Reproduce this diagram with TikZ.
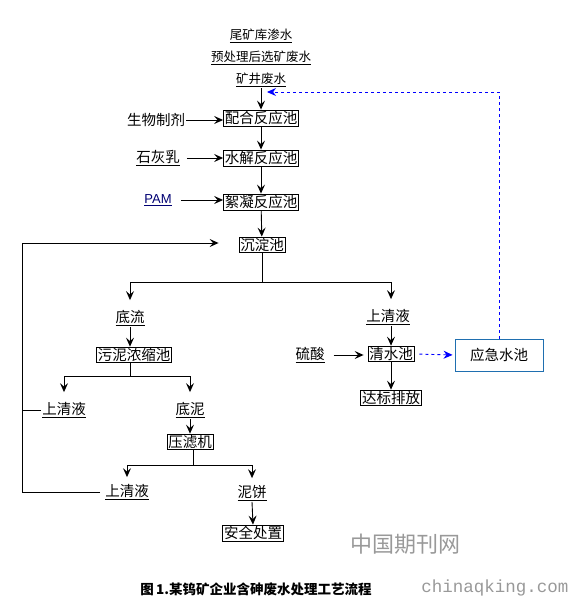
\documentclass[tikz,border=0pt]{standalone}
\usepackage{fontspec}
\setmainfont{Noto Sans CJK SC}
\newfontfamily\pamfont{Liberation Sans}
\newfontfamily\urlfont{Liberation Mono}
\usetikzlibrary{calc,arrows.meta}
\definecolor{steelblue}{RGB}{31,111,176}
\tikzset{
	box/.style={draw, line width=0.9pt, inner sep=1.2pt, font=\fontsize{14.5}{16}\selectfont},
	lbl/.style={inner sep=1pt, font=\fontsize{14.5}{16}\selectfont},
	toplbl/.style={inner sep=1pt, font=\fontsize{12.5}{15}\selectfont},
	arr/.style={line width=0.9pt, -{Stealth[length=9pt,width=8pt,inset=3.5pt]}},
	ln/.style={line width=0.9pt},
	back/.style={dashed, line width=0.9pt, color=blue, -{Stealth[length=9pt,width=8pt]}}
}

\begin{document}
\begin{tikzpicture}[x=1pt, y=-1pt]
		%%%%% START %%%%%
		\useasboundingbox (0,0) rectangle (571,602);
		
		\node[toplbl] (tail) at (261,36) {\underline{尾矿库渗水}};
		\node[toplbl] (pre) at (261,58) {\underline{预处理后选矿废水}};
		\node[toplbl] (mine) at (261,80) {\underline{矿井废水}};
		
		\node[box] (pei) at (261,118) {配合反应池};
		\node[lbl] (bio) at (156,120) {生物制剂};
		\node[box] (shui) at (261,158) {水解反应池};
		\node[lbl] (lime) at (158,158) {\underline{石灰乳}};
		\node[box] (xu) at (261,202) {絮凝反应池};
		\node[lbl, text=blue!45!black, font=\pamfont\fontsize{13}{15}\selectfont] (pam) at (158,200) {\underline{PAM}};
		\node[box] (chen) at (262,245) {沉淀池};
		
		\draw[arr] (mine.south) -- (pei.north);
		\draw[arr] (bio.east) -- (bio.east -| pei.west);
		\draw[arr] (pei) -- (shui);
		\draw[arr, shorten <=6pt] (lime.east) -- (lime.east -| shui.west);
		\draw[arr] (shui) -- (xu);
		\draw[arr, shorten <=8pt] (pam.east) -- (pam.east -| xu.west);
		\draw[arr] (xu) -- (chen);
		
		% left branch
		\coordinate (j1) at (262,282);
		\node[lbl] (diliu) at (130,318) {\underline{底流}};
		\node[box] (nong) at (134,355) {污泥浓缩池};
		\node[lbl] (sq1) at (64,410) {\underline{上清液}};
		\node[lbl] (dini) at (190,410) {\underline{底泥}};
		\node[box] (ya) at (190,442) {压滤机};
		\node[lbl] (sq2) at (127,492) {\underline{上清液}};
		\node[lbl] (bing) at (252,493) {\underline{泥饼}};
		\node[box] (safe) at (253,533) {安全处置};
		
		\draw[ln] (chen) -- (j1);
		\draw[arr, shorten >=9pt] (j1) -| (diliu.north);
		\draw[arr] (diliu.south) -- (diliu.south |- nong.north);
		\coordinate (j2) at (130,376);
		\draw[ln] (diliu.south |- nong.south) -- (j2);
		\draw[arr, shorten >=9pt] (j2) -| (sq1.north);
		\draw[arr, shorten >=9pt] (j2) -| (dini.north);
		\draw[arr] (dini.south) -- (ya.north);
		\coordinate (j3) at (193,465);
		\draw[ln] (j3 |- ya.south) -- (j3);
		\draw[arr, shorten >=6pt] (j3) -| (sq2.north);
		\draw[arr, shorten >=6pt] (j3) -| (bing.north);
		\draw[arr] (bing.south) -- (safe.north);
		
		% return of clear liquid
		\coordinate (fb) at (22,243);
		\draw[ln] (sq2.west) ++(-4,0) -| (fb);
		\draw[ln] (sq1.west) -- (sq1.west -| fb);
		\draw[arr, shorten >=20pt] (fb) -- (fb -| chen.west);
		
		% right branch
		\node[lbl] (sq3) at (388,317) {\underline{上清液}};
		\node[lbl] (acid) at (310,355) {\underline{硫酸}};
		\node[box] (qing) at (391,354) {清水池};
		\node[box] (dab) at (391,398) {达标排放};
		\node[box, draw=steelblue, minimum width=88, minimum height=32] (emer) at (499,355) {应急水池};
		
		\draw[arr, shorten >=9pt] (j1) -| (qing.north |- sq3.north);
		\draw[arr] (qing.north |- sq3.south) -- (qing.north);
		\draw[arr, shorten <=8pt, shorten >=4pt] (acid.east) -- (acid.east -| qing.west);
		\draw[arr] (qing) -- (dab);
		\draw[back, shorten <=5pt, shorten >=2pt] (qing.east) -- (emer.west);
		\coordinate (ret) at (267,92);
		\draw[back] (emer.north) |- (ret);
		
		% caption and watermark
		\node[inner sep=0, font=\bfseries\fontsize{13.5}{15}\selectfont] (cap) at (256,589) {图\,1.某钨矿企业含砷废水处理工艺流程};
		\node[inner sep=0, text=black!40, font=\fontsize{22}{24}\selectfont] (wm) at (405,544) {中国期刊网};
		\node[inner sep=0, text=black!40, font=\urlfont\fontsize{17.5}{20}\selectfont] (url) at (495,588) {chinaqking.com};
		
		%%%%% END %%%%%
\end{tikzpicture}
\end{document}
